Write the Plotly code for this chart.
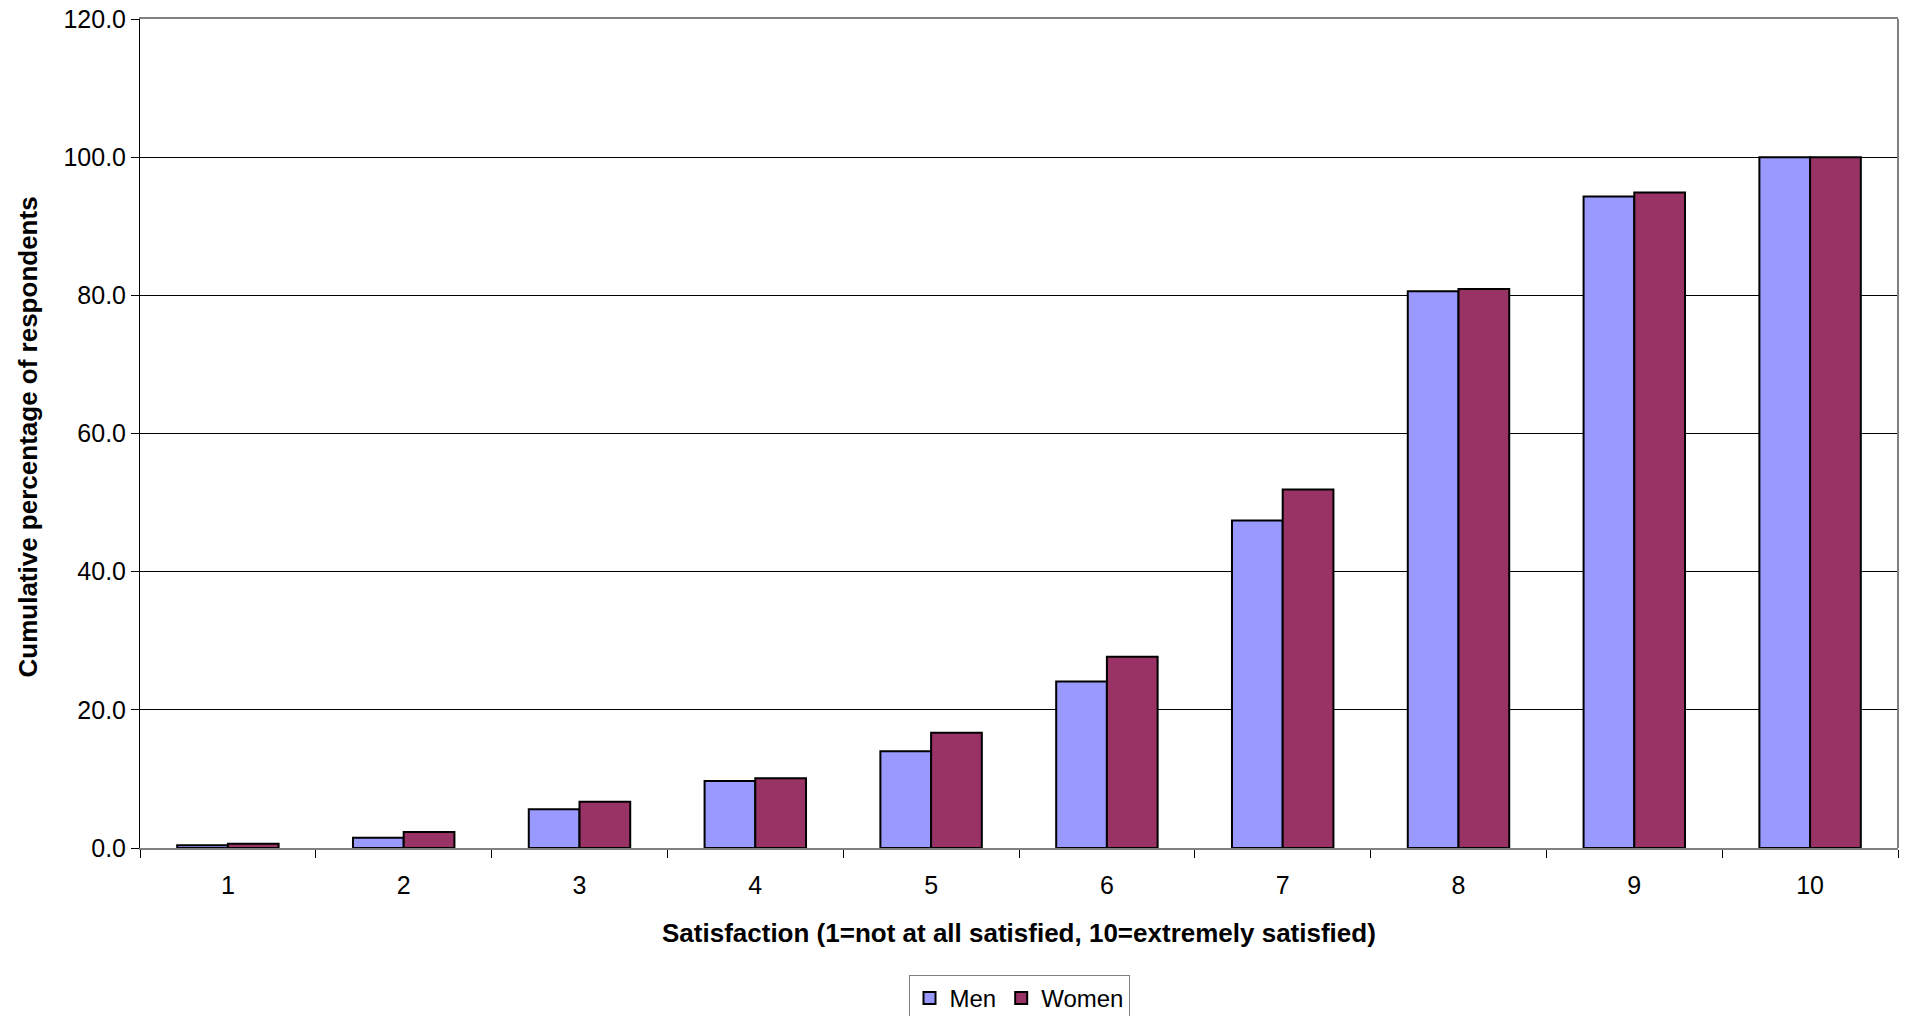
import plotly.graph_objects as go

categories = ["1", "2", "3", "4", "5", "6", "7", "8", "9", "10"]
men = [0.4, 1.5, 5.6, 9.7, 14.0, 24.1, 47.4, 80.6, 94.3, 100.0]
women = [0.6, 2.3, 6.7, 10.1, 16.7, 27.7, 51.9, 80.9, 94.9, 100.0]
y_ticks = [0, 20, 40, 60, 80, 100, 120]

FONT = "Arial, 'Liberation Sans', sans-serif"

fig = go.Figure()
fig.add_trace(go.Bar(name="Men", x=categories, y=men,
                     marker=dict(color="#9999FF", line=dict(color="#000000", width=2))))
fig.add_trace(go.Bar(name="Women", x=categories, y=women,
                     marker=dict(color="#993366", line=dict(color="#000000", width=2))))

fig.update_layout(
    width=1912, height=1016,
    margin=dict(l=140, r=14, t=19, b=168, autoexpand=False),
    paper_bgcolor="white", plot_bgcolor="white",
    font=dict(family=FONT, size=25, color="black"),
    barmode="group", bargap=0.423, bargroupgap=0,
    showlegend=True,
    legend=dict(orientation="h", x=0.5, xanchor="center", y=-0.153, yanchor="top",
                bordercolor="#808080", borderwidth=1, font=dict(size=24),
                itemwidth=30, tracegroupgap=0, traceorder="normal"),
    xaxis=dict(type="category", showline=True, linecolor="#808080", linewidth=2, mirror=True,
               ticks="outside", tickson="boundaries", ticklen=8, tickcolor="#000000", tickwidth=1,
               showgrid=False, tickfont=dict(size=25), ticklabelstandoff=14),
    yaxis=dict(range=[0, 120], tickvals=y_ticks, tickformat=".1f",
               showline=True, linecolor="#000000", linewidth=1,
               ticks="outside", ticklen=8, tickcolor="#000000",
               showgrid=True, gridcolor="#000000", gridwidth=1, zeroline=False,
               tickfont=dict(size=25)),
)

fig.add_shape(type="line", xref="paper", yref="paper", x0=1, x1=1, y0=0, y1=1,
              line=dict(color="#808080", width=2))

fig.add_annotation(text="<b>Satisfaction (1=not at all satisfied, 10=extremely satisfied)</b>",
                   xref="paper", yref="paper", x=0.5, y=0, xanchor="center", yanchor="middle",
                   yshift=-85, showarrow=False, font=dict(size=26))
fig.add_annotation(text="<b>Cumulative percentage of respondents</b>",
                   xref="paper", yref="paper", x=0, y=0.5, xanchor="center", yanchor="middle",
                   xshift=-113, yshift=-4, textangle=-90, showarrow=False, font=dict(size=26))

fig.write_html("out.html", config={"displayModeBar": False},
               post_script="document.body.style.margin='0';document.documentElement.style.overflow='hidden';")
